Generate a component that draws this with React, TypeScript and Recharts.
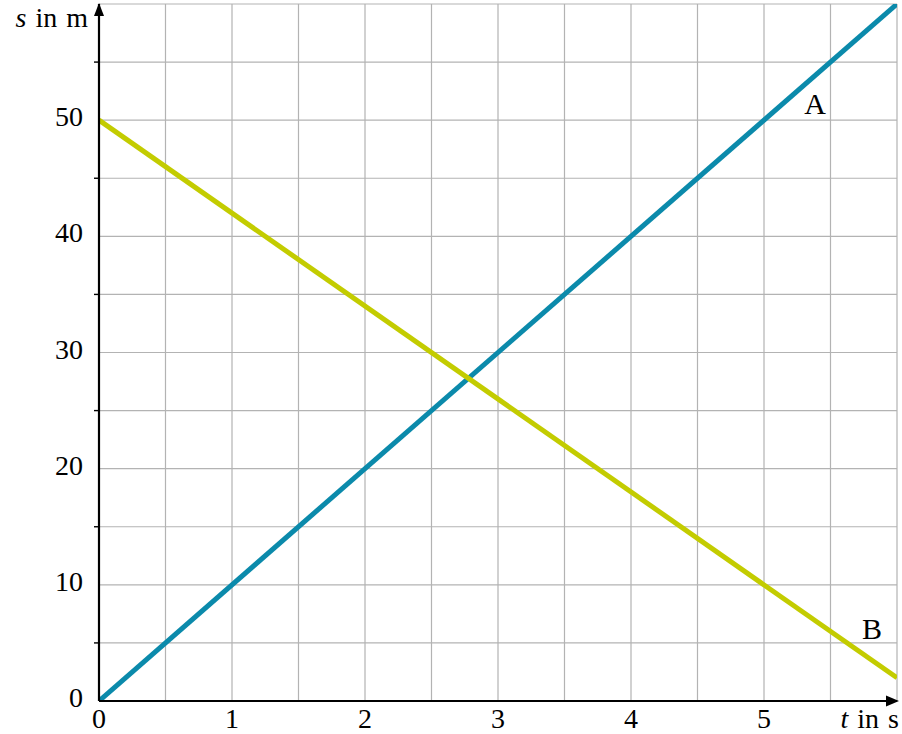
import React from 'react';
import { LineChart, Line, XAxis, YAxis, CartesianGrid, ReferenceDot } from 'recharts';

const FONT = '"Liberation Serif", "Times New Roman", "DejaVu Serif", serif';

// data
const times = [0, 6];
const seriesA = [0, 60];
const seriesB = [50, 2];
const xGridTicks = [0, 0.5, 1, 1.5, 2, 2.5, 3, 3.5, 4, 4.5, 5, 5.5];
const yGridTicks = [0, 5, 10, 15, 20, 25, 30, 35, 40, 45, 50, 55];
const xLabelTicks = [0, 1, 2, 3, 4, 5];
const yLabelTicks = [0, 10, 20, 30, 40, 50];

const data = times.map((t, i) => ({ t, A: seriesA[i], B: seriesB[i] }));

const BLUE = '#0b8aab';
const YELLOW = '#c3cc00';
const GRID = '#b3b3b3';

const XTick = (props: any) => {
  const { x, y, payload } = props;
  if (!xLabelTicks.includes(payload.value)) return <g />;
  return (
    <text x={x} y={y + 27} textAnchor="middle" fontSize={28} fontFamily={FONT} fill="#000">
      {payload.value}
    </text>
  );
};

const YTick = (props: any) => {
  const { x, y, payload } = props;
  if (yLabelTicks.includes(payload.value)) {
    return (
      <text x={x - 16} y={y + 6} textAnchor="end" fontSize={28} fontFamily={FONT} fill="#000">
        {payload.value}
      </text>
    );
  }
  return <line x1={x - 5} x2={x} y1={y} y2={y} stroke="#000" strokeWidth={1.4} />;
};

const XLabel = (p: any) => {
  const vb = p.viewBox || {};
  return (
    <text x={vb.x + vb.width + 2} y={vb.y + 27} textAnchor="end" fontSize={28} fontFamily={FONT} fill="#000" wordSpacing={2}>
      <tspan fontStyle="italic">t</tspan> in s
    </text>
  );
};

const YLabel = (p: any) => {
  const vb = p.viewBox || {};
  return (
    <text x={vb.x + vb.width - 11} y={vb.y + 23} textAnchor="end" fontSize={28} fontFamily={FONT} fill="#000" wordSpacing={2}>
      <tspan fontStyle="italic">s</tspan> in m
    </text>
  );
};

const ArrowRight = (p: any) => {
  const { cx, cy } = p;
  return <polygon points={`${cx + 2},${cy} ${cx - 11},${cy - 5.5} ${cx - 11},${cy + 5.5}`} fill="#000" />;
};
const ArrowUp = (p: any) => {
  const { cx, cy } = p;
  return <polygon points={`${cx},${cy - 1} ${cx - 5},${cy + 12} ${cx + 5},${cy + 12}`} fill="#000" />;
};

const LabelA = (p: any) => {
  if (p.index !== data.length - 1) return null;
  return (
    <text x={p.x - 82} y={p.y + 110} textAnchor="middle" fontSize={30} fontFamily={FONT} fill="#000">
      A
    </text>
  );
};
const LabelB = (p: any) => {
  if (p.index !== data.length - 1) return null;
  return (
    <text x={p.x - 25} y={p.y - 39} textAnchor="middle" fontSize={30} fontFamily={FONT} fill="#000">
      B
    </text>
  );
};

export default function App() {
  return (
    <div style={{ position: 'absolute', left: 0, top: 0, width: 902, height: 734, background: '#fff' }}>
      <LineChart width={902} height={734} data={data} margin={{ top: 4, right: 5, bottom: 0, left: 0 }}>
        <CartesianGrid stroke={GRID} strokeWidth={1.2} />
        <XAxis
          type="number"
          dataKey="t"
          domain={[0, 6]}
          ticks={xGridTicks}
          interval={0}
          height={33}
          tickSize={0}
          tickMargin={0}
          tickLine={false}
          axisLine={{ stroke: '#000', strokeWidth: 2.2 }}
          tick={<XTick />}
          label={{ content: XLabel }}
          allowDataOverflow
        />
        <YAxis
          type="number"
          domain={[0, 60]}
          ticks={yGridTicks}
          interval={0}
          width={99}
          tickSize={0}
          tickMargin={0}
          tickLine={false}
          axisLine={{ stroke: '#000', strokeWidth: 2.2 }}
          tick={<YTick />}
          label={{ content: YLabel }}
          allowDataOverflow
        />
        <Line
          type="linear"
          dataKey="A"
          stroke={BLUE}
          strokeWidth={5}
          dot={false}
          activeDot={false}
          isAnimationActive={false}
          label={LabelA}
        />
        <Line
          type="linear"
          dataKey="B"
          stroke={YELLOW}
          strokeWidth={5}
          dot={false}
          activeDot={false}
          isAnimationActive={false}
          label={LabelB}
        />
        <ReferenceDot x={6} y={0} ifOverflow="visible" shape={ArrowRight} />
        <ReferenceDot x={0} y={60} ifOverflow="visible" shape={ArrowUp} />
      </LineChart>
    </div>
  );
}
